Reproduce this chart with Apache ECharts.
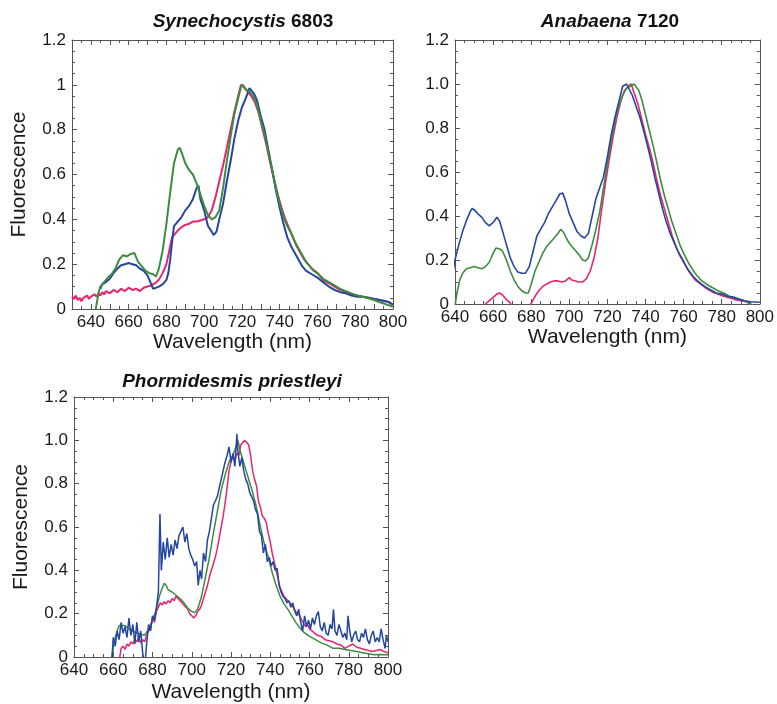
<!DOCTYPE html>
<html lang="en" style="height: 100%">
<head>
    <meta charset="utf-8">
    <title>Fluorescence spectra</title>
    <script src="https://cdn.jsdelivr.net/npm/echarts@6/dist/echarts.min.js"></script>
</head>
<body style="height: 100%; margin: 0; background: #fff">
<div id="main" style="width: 777px; height: 704px"></div>
<script type="text/javascript">
    // tick labels
    var yTicks = [0, 0.2, 0.4, 0.6, 0.8, 1.0, 1.2];
    var xTicks = [640, 660, 680, 700, 720, 740, 760, 780, 800];

    // Synechocystis 6803  [wavelength nm, fluorescence]
    var synBlue = [[645,0.09],[646,0.11],[648,0.12],[650,0.135],[652,0.16],[654,0.18],[656,0.195],[658,0.20],[660,0.205],[662,0.20],[664,0.195],[666,0.18],[668,0.17],[670,0.15],[671,0.15],[672,0.11],[673,0.09],[674,0.085],[676,0.10],[678,0.11],[680,0.13],[681,0.16],[682,0.22],[683,0.30],[684,0.37],[686,0.39],[688,0.41],[690,0.44],[692,0.46],[694,0.49],[696,0.54],[697,0.55],[698,0.49],[700,0.44],[702,0.37],[704,0.345],[705,0.33],[706.5,0.345],[708,0.40],[710,0.47],[712,0.57],[714,0.66],[716,0.76],[718,0.84],[720,0.90],[722,0.94],[724,0.985],[725,0.98],[726.5,0.96],[728,0.93],[730,0.86],[732,0.80],[734,0.71],[736,0.62],[738,0.53],[740,0.45],[742,0.38],[744,0.32],[746,0.28],[748,0.25],[750,0.22],[752,0.19],[754,0.17],[757,0.155],[760,0.14],[763,0.12],[766,0.10],[769,0.085],[772,0.075],[775,0.07],[778,0.06],[781,0.055],[784,0.055],[787,0.05],[790,0.045],[793,0.04],[796,0.035],[798,0.03],[800,0.02]];
    var synGreen = [[641.5,-0.05],[643,0.02],[644,0.07],[645,0.10],[647,0.12],[649,0.14],[651,0.155],[653,0.18],[655,0.22],[657,0.24],[659,0.235],[661,0.245],[662,0.24],[663,0.25],[665,0.21],[667,0.19],[669,0.17],[671,0.16],[673,0.155],[674.5,0.145],[676,0.18],[678,0.26],[680,0.38],[682,0.52],[684,0.65],[686,0.71],[687,0.72],[688,0.70],[690,0.65],[692,0.62],[694,0.60],[696,0.56],[698,0.51],[700,0.46],[702,0.42],[704,0.40],[706,0.41],[708,0.44],[710,0.54],[712,0.66],[714,0.77],[716,0.87],[718,0.94],[719.5,0.99],[720.5,1.0],[722,0.98],[724,0.97],[726,0.95],[728,0.91],[730,0.84],[732,0.78],[734,0.70],[736,0.62],[738,0.54],[740,0.47],[742,0.41],[744,0.37],[746,0.34],[748,0.30],[750,0.27],[752,0.24],[754,0.21],[756,0.19],[758,0.17],[760,0.16],[763,0.135],[766,0.12],[769,0.105],[772,0.09],[775,0.08],[778,0.07],[781,0.06],[784,0.055],[787,0.048],[790,0.04],[793,0.03],[796,0.022],[800,0.01]];
    var synPink = [[630,0.055],[631,0.045],[632,0.06],[633,0.04],[634,0.05],[635,0.035],[636,0.05],[637,0.045],[638,0.06],[639,0.045],[640,0.055],[641,0.05],[642,0.065],[643,0.055],[644,0.07],[645,0.06],[646,0.075],[647,0.065],[648,0.08],[650,0.07],[652,0.085],[654,0.075],[656,0.09],[658,0.08],[660,0.095],[662,0.085],[664,0.09],[666,0.08],[668,0.095],[670,0.1],[672,0.105],[674,0.115],[676,0.13],[678,0.16],[680,0.2],[682,0.28],[683,0.32],[684,0.33],[686,0.35],[688,0.365],[690,0.375],[692,0.38],[694,0.39],[696,0.39],[698,0.395],[700,0.40],[702,0.41],[704,0.44],[706,0.50],[708,0.57],[710,0.64],[712,0.72],[714,0.80],[716,0.88],[718,0.95],[719.5,1.0],[721,0.99],[723,0.97],[725,0.95],[727,0.92],[729,0.87],[731,0.80],[733,0.73],[735,0.65],[737,0.58],[739,0.51],[741,0.45],[743,0.40],[745,0.36],[747,0.32],[749,0.28],[751,0.25],[753,0.22],[755,0.20],[757,0.18],[760,0.16],[763,0.13],[766,0.115],[769,0.10],[772,0.085],[775,0.075],[778,0.065],[781,0.06],[784,0.055],[787,0.05],[790,0.045],[793,0.04],[796,0.035],[798,0.03],[800,0.02]];

    // Anabaena 7120
    var anaBlue = [[639,0.15],[640,0.2],[642,0.27],[644,0.33],[646,0.38],[648,0.42],[649,0.435],[650.5,0.425],[652,0.41],[654,0.395],[656,0.37],[658,0.355],[659,0.35],[660.5,0.375],[662,0.395],[663.5,0.375],[665,0.33],[667,0.27],[669,0.21],[671,0.17],[673,0.145],[675,0.14],[677,0.14],[679,0.17],[681,0.24],[683,0.31],[685,0.34],[687,0.37],[689,0.41],[691,0.44],[693,0.47],[695,0.50],[696.5,0.505],[698,0.47],[700,0.41],[702,0.37],[704,0.33],[706,0.31],[708,0.30],[710,0.32],[712,0.40],[714,0.48],[716,0.53],[718,0.58],[720,0.67],[722,0.77],[724,0.85],[726,0.92],[728,0.99],[730,1.0],[731,0.995],[733,0.95],[735,0.90],[737,0.85],[739,0.79],[741,0.72],[743,0.65],[745,0.57],[747,0.50],[749,0.43],[751,0.37],[753,0.32],[755,0.28],[757,0.24],[759,0.21],[762,0.16],[765,0.125],[768,0.10],[771,0.08],[774,0.065],[777,0.05],[780,0.045],[783,0.035],[786,0.03],[789,0.022],[792,0.015],[795,0.01],[800,0.008]];
    var anaGreen = [[640,-0.01],[641,0.05],[642.5,0.11],[644,0.14],[646,0.16],[648,0.165],[650,0.17],[652,0.165],[654,0.16],[656,0.17],[658,0.19],[660,0.23],[661.5,0.255],[663.5,0.25],[665,0.24],[667,0.20],[669,0.15],[671,0.11],[673,0.08],[675,0.06],[677,0.05],[678.5,0.05],[680,0.09],[682,0.15],[684,0.19],[686,0.23],[688,0.26],[690,0.28],[692,0.30],[694,0.32],[695.5,0.34],[697,0.325],[699,0.29],[701,0.265],[703,0.245],[705,0.225],[707,0.20],[708.5,0.195],[710,0.21],[712,0.27],[714,0.34],[716,0.42],[718,0.53],[720,0.64],[722,0.74],[724,0.83],[726,0.90],[728,0.95],[730,0.98],[732,0.99],[734,1.0],[735,1.005],[736.5,0.97],[738,0.93],[740,0.86],[742,0.79],[744,0.72],[746,0.64],[748,0.56],[750,0.49],[752,0.43],[754,0.37],[756,0.32],[758,0.27],[760,0.23],[763,0.18],[766,0.14],[769,0.11],[772,0.09],[775,0.075],[778,0.06],[781,0.05],[784,0.035],[787,0.03],[790,0.02],[793,0.01],[795,0.0],[797,-0.01]];
    var anaPink = [[654,-0.02],[656,0.0],[658,0.015],[660,0.03],[662,0.045],[663.5,0.05],[665,0.04],[667,0.02],[669,0.005],[671,-0.03],[674,-0.05],[677,-0.04],[679,-0.01],[680.5,0.01],[682,0.035],[684,0.06],[686,0.08],[688,0.09],[690,0.10],[692,0.105],[694,0.105],[696,0.10],[698,0.105],[700,0.12],[701,0.11],[703,0.105],[705,0.10],[707,0.10],[709,0.115],[711,0.15],[713,0.21],[715,0.30],[717,0.43],[719,0.55],[721,0.66],[723,0.76],[725,0.85],[727,0.92],[729,0.97],[731,0.99],[732.5,1.0],[734,0.96],[736,0.91],[738,0.84],[740,0.77],[742,0.71],[744,0.64],[746,0.56],[748,0.49],[750,0.43],[752,0.37],[754,0.31],[756,0.26],[758,0.22],[760,0.19],[763,0.145],[766,0.11],[769,0.09],[772,0.07],[775,0.055],[778,0.045],[781,0.035],[784,0.028],[787,0.02],[790,0.015],[793,0.01],[795,0.0],[797,-0.01]];

    // Phormidesmis priestleyi
    var phoBlue = [[659,-0.05],[660,0.09],[661,0.05],[662,0.12],[663,0.08],[664,0.16],[665,0.11],[666,0.14],[667,0.09],[668,0.18],[669,0.10],[670,0.15],[671,0.06],[672,0.16],[673,0.07],[674,0.12],[675,0.02],[676,-0.05],[677,0.06],[678,0.15],[679,0.12],[680,0.19],[681,0.17],[682,0.23],[683,0.30],[683.8,0.66],[684.5,0.40],[685.5,0.53],[686.5,0.45],[687.5,0.55],[688.5,0.46],[689.5,0.52],[690.5,0.47],[691.5,0.54],[692.5,0.50],[693.5,0.56],[694.5,0.58],[695.5,0.60],[696.5,0.53],[697.5,0.57],[698.5,0.50],[699.5,0.47],[700.5,0.45],[701.5,0.42],[702.5,0.44],[703.3,0.33],[704.2,0.40],[705,0.36],[706,0.48],[707,0.44],[708,0.54],[709,0.58],[710,0.64],[711,0.70],[712,0.72],[713,0.74],[714,0.78],[715,0.82],[716,0.86],[717,0.90],[718,0.93],[719,0.97],[720,0.90],[721,0.94],[722,0.88],[723,1.03],[723.5,0.95],[724.5,0.88],[725.5,0.92],[726.5,0.86],[727.5,0.82],[728.5,0.80],[729.5,0.76],[730.5,0.74],[731.5,0.72],[732.5,0.68],[733.5,0.66],[734.5,0.58],[735.5,0.56],[736.5,0.48],[737.5,0.52],[738.5,0.44],[739.5,0.46],[740.5,0.42],[741.5,0.44],[742.5,0.40],[743.5,0.41],[744.5,0.33],[745.5,0.30],[746.5,0.28],[747.5,0.27],[748.5,0.25],[749.5,0.26],[750.5,0.23],[751.5,0.25],[752.5,0.21],[753.5,0.19],[754.5,0.22],[755.5,0.16],[756.5,0.12],[757.5,0.19],[758.5,0.14],[759.5,0.17],[760.5,0.13],[761.5,0.18],[762.5,0.15],[763.5,0.19],[764.5,0.21],[765.5,0.14],[766.5,0.12],[767.5,0.16],[768.5,0.11],[769.5,0.10],[770.5,0.15],[771.5,0.13],[772.2,0.22],[773,0.12],[774,0.10],[775,0.15],[776,0.12],[777,0.09],[778,0.11],[779,0.08],[779.6,0.19],[780.5,0.12],[781.5,0.07],[782.5,0.10],[783.5,0.12],[784.5,0.08],[785.5,0.07],[786.5,0.11],[787.5,0.09],[788.5,0.13],[789.5,0.08],[790.5,0.06],[791.5,0.10],[792.5,0.12],[793.5,0.07],[794.5,0.09],[795.5,0.07],[796.5,0.13],[797.5,0.08],[798.5,0.04],[799.2,0.10],[800,0.07]];
    var phoGreen = [[659,-0.02],[660,0.04],[661,0.09],[662,0.12],[663,0.145],[664,0.15],[666,0.145],[668,0.13],[670,0.12],[672,0.11],[674,0.105],[676,0.10],[678,0.13],[680,0.17],[682,0.22],[683.5,0.28],[685,0.32],[686,0.34],[687,0.33],[688,0.31],[690,0.30],[692,0.285],[694,0.27],[696,0.25],[698,0.225],[700,0.21],[701.5,0.205],[703,0.22],[705,0.28],[707,0.37],[709,0.46],[711,0.57],[713,0.67],[715,0.77],[717,0.84],[719,0.90],[721,0.93],[722.5,0.97],[723.5,1.0],[725,0.94],[727,0.88],[729,0.82],[731,0.76],[733,0.69],[735,0.60],[737,0.52],[739,0.46],[741,0.39],[743,0.33],[745,0.28],[747,0.245],[749,0.22],[751,0.19],[753,0.16],[755,0.135],[757,0.115],[760,0.095],[763,0.08],[766,0.065],[769,0.055],[772,0.04],[775,0.04],[778,0.035],[781,0.03],[784,0.025],[787,0.02],[790,0.015],[793,0.01],[796,0.012],[800,0.01]];
    var phoPink = [[663,-0.02],[664,0.04],[665,0.05],[666,0.035],[667,0.06],[668,0.05],[669,0.07],[670,0.06],[671,0.08],[672,0.07],[673,0.09],[674,0.065],[675,0.08],[676,0.07],[677,0.10],[678,0.12],[679,0.13],[680,0.18],[681,0.16],[682,0.21],[683,0.23],[684,0.25],[685,0.24],[686,0.255],[687,0.245],[688,0.26],[689,0.25],[690,0.27],[691,0.26],[692,0.28],[693,0.27],[694,0.26],[695,0.25],[696,0.24],[697,0.23],[698,0.22],[699,0.20],[700,0.19],[701,0.18],[702,0.19],[703,0.21],[704,0.22],[705,0.24],[706,0.27],[707,0.30],[708,0.33],[709,0.37],[710,0.40],[711,0.43],[712,0.46],[713,0.50],[714,0.55],[715,0.60],[716,0.65],[717,0.71],[718,0.78],[719,0.86],[720,0.90],[721,0.93],[722,0.91],[723,0.94],[724,0.93],[725,0.98],[726,0.99],[727,1.0],[728,0.99],[729,0.98],[730,0.93],[731,0.86],[732,0.82],[733,0.79],[734,0.72],[735,0.69],[736,0.65],[737,0.64],[738,0.62],[739,0.57],[740,0.53],[741,0.48],[742,0.44],[743,0.40],[744,0.36],[745,0.32],[746,0.30],[747,0.28],[748,0.27],[749,0.26],[750,0.25],[751,0.24],[752,0.235],[753,0.21],[754,0.20],[755,0.19],[756,0.17],[757,0.155],[758,0.14],[759,0.15],[760,0.13],[762,0.115],[764,0.10],[766,0.095],[768,0.08],[770,0.075],[772,0.07],[774,0.06],[776,0.055],[778,0.04],[780,0.05],[782,0.06],[784,0.045],[786,0.04],[788,0.035],[790,0.03],[792,0.025],[794,0.03],[796,0.035],[798,0.025],[800,0.02]];

    var BLUE = '#2446a0', GREEN = '#3d8c3d', PINK = '#e8246f';
    var FONT = 'Liberation Sans';
    var frame = '#555';

    function xAxes(grid, min, step, minorSplit, withName, nameGap) {
        var base = {
            gridIndex: grid, type: 'value', min: min, max: 800, interval: step,
            axisLine: {show: true, onZero: false, lineStyle: {color: frame, width: 1}},
            axisTick: {show: true, inside: true, length: 5, lineStyle: {color: frame}},
            minorTick: {show: true, splitNumber: minorSplit, length: 3, lineStyle: {color: frame}},
            splitLine: {show: false}
        };
        var bottom = Object.assign({}, base, {
            position: 'bottom',
            axisLabel: {
                show: true, margin: 5, color: '#1a1a1a', fontSize: 17, fontFamily: FONT,
                formatter: function (v) { return xTicks.indexOf(v) >= 0 ? String(v) : ''; }
            },
            name: withName ? 'Wavelength (nm)' : '',
            nameLocation: 'middle', nameGap: nameGap,
            nameTextStyle: {fontSize: 21, color: '#1a1a1a', fontFamily: FONT}
        });
        var top = Object.assign({}, base, {position: 'top', axisLabel: {show: false}});
        return [bottom, top];
    }

    function yAxes(grid, fmt, withName) {
        var base = {
            gridIndex: grid, type: 'value', min: 0, max: 1.2, interval: 0.2,
            axisLine: {show: true, onZero: false, lineStyle: {color: frame, width: 1}},
            axisTick: {show: true, inside: true, length: 5, lineStyle: {color: frame}},
            minorTick: {show: true, splitNumber: 4, length: 3, lineStyle: {color: frame}},
            splitLine: {show: false}
        };
        var left = Object.assign({}, base, {
            position: 'left',
            axisLabel: {show: true, margin: 6, color: '#1a1a1a', fontSize: 17, fontFamily: FONT, formatter: fmt},
            name: withName ? 'Fluorescence' : '',
            nameLocation: 'middle', nameGap: 42,
            nameTextStyle: {fontSize: 21, color: '#1a1a1a', fontFamily: FONT}
        });
        var right = Object.assign({}, base, {position: 'right', axisLabel: {show: false}});
        return [left, right];
    }

    function plainFmt(v) { return String(+v.toFixed(1)); }
    function oneDec(v) { return v === 0 ? '0' : v.toFixed(1); }

    function line(data, color, xi, yi, w) {
        return {
            type: 'line', data: data, xAxisIndex: xi, yAxisIndex: yi,
            showSymbol: false, symbol: 'none', clip: true,
            lineStyle: {color: color, width: w}, itemStyle: {color: color}
        };
    }

    function titleOf(text, x, y) {
        return {
            text: text, left: x, top: y, textAlign: 'center', padding: 0,
            textStyle: {
                fontSize: 19, fontWeight: 'bold', color: '#111', fontFamily: FONT,
                rich: {i: {fontSize: 19, fontWeight: 'bold', fontStyle: 'italic', color: '#111', fontFamily: FONT}}
            }
        };
    }

    var chart = echarts.init(document.getElementById('main'), null, {renderer: 'canvas'});
    var option = {
        animation: false,
        backgroundColor: '#fff',
        title: [
            titleOf('{i|Synechocystis} 6803', 243, 12),
            titleOf('{i|Anabaena} 7120', 610, 12),
            titleOf('{i|Phormidesmis priestleyi}', 232, 372)
        ],
        grid: [
            {left: 72, top: 40, width: 321, height: 269},
            {left: 455, top: 40, width: 308, height: 264},
            {left: 74, top: 397, width: 314, height: 265}
        ],
        xAxis: [].concat(
            xAxes(0, 630, 10, 2, true, 20),
            xAxes(1, 640, 20, 4, true, 22),
            xAxes(2, 640, 20, 4, true, 25)
        ),
        yAxis: [].concat(
            yAxes(0, plainFmt, true),
            yAxes(1, oneDec, false),
            yAxes(2, oneDec, true)
        ),
        series: [
            line(synPink, PINK, 0, 0, 2),
            line(synBlue, BLUE, 0, 0, 2),
            line(synGreen, GREEN, 0, 0, 2),
            line(anaPink, PINK, 2, 2, 1.6),
            line(anaGreen, GREEN, 2, 2, 1.6),
            line(anaBlue, BLUE, 2, 2, 1.6),
            line(phoPink, PINK, 4, 4, 1.5),
            line(phoGreen, GREEN, 4, 4, 1.5),
            line(phoBlue, BLUE, 4, 4, 1.5)
        ]
    };
    chart.setOption(option);
</script>
</body>
</html>
